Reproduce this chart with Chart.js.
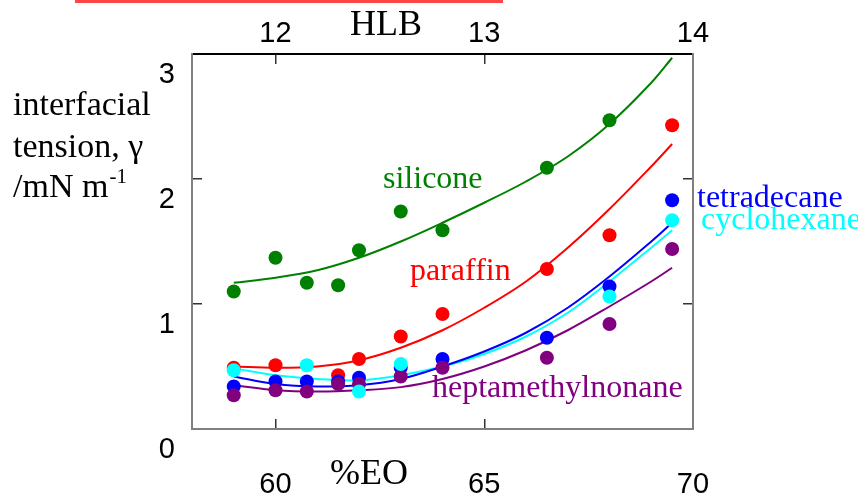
<!DOCTYPE html>
<html>
<head>
<meta charset="utf-8">
<script src="https://cdn.jsdelivr.net/npm/chart.js@4/dist/chart.umd.min.js"></script>
<style>
  html, body { margin: 0; padding: 0; background: #fff; }
  canvas { display: block; }
</style>
</head>
<body>
<canvas id="tensionChart" width="858" height="498"></canvas>
<script>
"use strict";

// tick labels
var eoTicks = [60, 65, 70];
var hlbTicks = [12, 13, 14];
var gammaTicks = [0, 1, 2, 3];

// measured points (%EO vs interfacial tension)
var eoPoints = [59, 60, 60.75, 61.5, 62, 63, 64, 66.5, 68, 69.5];
var siliconePts = [1.10, 1.37, 1.17, 1.15, 1.43, 1.74, 1.59, 2.09, 2.47, null];
var paraffinPts = [0.49, 0.51, null, 0.43, 0.56, 0.74, 0.92, 1.28, 1.55, 2.43];
var tetradecanePts = [0.34, 0.38, 0.38, 0.38, 0.41, 0.49, 0.56, 0.73, 1.14, 1.83];
var heptamethylnonanePts = [0.27, 0.31, 0.30, 0.36, 0.36, 0.42, 0.49, 0.57, 0.84, 1.44];
var cyclohexanePts = [0.47, null, 0.51, null, 0.30, 0.52, null, null, 1.06, 1.67];

// fitted curves
var fitEo = [59, 60, 61, 62, 63, 64, 65, 66, 67, 68, 69, 69.5];
var siliconeFit = [1.17, 1.21, 1.27, 1.37, 1.50, 1.65, 1.81, 1.98, 2.18, 2.44, 2.77, 2.97];
var paraffinFit = [0.50, 0.49, 0.50, 0.55, 0.65, 0.79, 0.97, 1.18, 1.45, 1.76, 2.10, 2.28];
var tetradecaneFit = [0.42, 0.36, 0.34, 0.35, 0.40, 0.50, 0.62, 0.77, 0.97, 1.22, 1.50, 1.65];
var cyclohexaneFit = [0.485, 0.43, 0.40, 0.39, 0.43, 0.50, 0.60, 0.74, 0.93, 1.18, 1.45, 1.59];
var heptamethylnonaneFit = [0.35, 0.31, 0.30, 0.31, 0.335, 0.40, 0.50, 0.63, 0.79, 0.98, 1.18, 1.29];

function toXY(xs, ys) {
  var out = [];
  xs.forEach(function (x, i) {
    if (ys[i] !== null) out.push({ x: x, y: ys[i] });
  });
  return out;
}

function fitSet(ys, color) {
  return {
    data: toXY(fitEo, ys),
    showLine: true,
    borderColor: color,
    borderWidth: 2,
    pointRadius: 0,
    tension: 0.35,
    order: 10
  };
}

function pointSet(ys, color, order) {
  return {
    data: toXY(eoPoints, ys),
    showLine: false,
    backgroundColor: color,
    borderColor: color,
    borderWidth: 0,
    pointRadius: 7,
    order: order
  };
}

var serif = '"Liberation Serif", "Times New Roman", serif';
var sans = '"Liberation Sans", Arial, sans-serif';

var textPlugin = {
  id: 'freeText',
  afterDraw: function (chart) {
    var ctx = chart.ctx;
    ctx.save();
    // red bar at the top edge
    ctx.fillStyle = '#ff4545';
    ctx.fillRect(75, 0, 428, 3);

    ctx.textAlign = 'left';
    ctx.textBaseline = 'alphabetic';
    ctx.fillStyle = '#000';
    ctx.font = '36px ' + serif;
    ctx.fillText('HLB', 350, 35);
    ctx.fillText('%EO', 330, 484);

    ctx.font = '34px ' + serif;
    ctx.fillText('interfacial', 13, 115);
    ctx.fillText('tension, \u03b3', 13, 157);
    ctx.fillText('/mN m', 13, 197);
    var w = ctx.measureText('/mN m').width;
    ctx.font = '21px ' + serif;
    ctx.fillText('-1', 13 + w + 1, 183);

    ctx.font = '32px ' + serif;
    ctx.fillStyle = 'green';
    ctx.fillText('silicone', 383, 188);
    ctx.fillStyle = 'red';
    ctx.fillText('paraffin', 410, 280);
    ctx.fillStyle = 'purple';
    ctx.fillText('heptamethylnonane', 432, 397);
    ctx.fillStyle = 'blue';
    ctx.fillText('tetradecane', 697, 207);
    ctx.fillStyle = 'cyan';
    ctx.fillText('cyclohexane', 701, 229);
    ctx.restore();
  }
};

function axisGrid() {
  return { drawOnChartArea: false, drawTicks: true, tickLength: -10, color: '#333', lineWidth: 1.5 };
}

var ctx = document.getElementById('tensionChart').getContext('2d');
var tensionChart = new Chart(ctx, {
  type: 'scatter',
  data: {
    datasets: [
      fitSet(siliconeFit, 'green'),
      fitSet(paraffinFit, 'red'),
      fitSet(tetradecaneFit, 'blue'),
      fitSet(cyclohexaneFit, 'cyan'),
      fitSet(heptamethylnonaneFit, 'purple'),
      pointSet(siliconePts, 'green', 5),
      pointSet(paraffinPts, 'red', 4),
      pointSet(tetradecanePts, 'blue', 3),
      pointSet(heptamethylnonanePts, 'purple', 2),
      pointSet(cyclohexanePts, 'cyan', 1)
    ]
  },
  options: {
    responsive: false,
    animation: false,
    events: [],
    layout: { padding: 0, autoPadding: false },
    plugins: { legend: { display: false }, tooltip: { enabled: false } },
    scales: {
      x: {
        type: 'linear', position: 'bottom', min: 58, max: 70,
        afterBuildTicks: function (s) { s.ticks = eoTicks.map(function (v) { return { value: v }; }); },
        afterFit: function (s) { s.height = 69; },
        grid: axisGrid(),
        border: { color: '#808080', width: 2 },
        ticks: { autoSkip: false, maxRotation: 0, padding: 49, color: '#000', font: { family: sans, size: 29 } }
      },
      x2: {
        type: 'linear', axis: 'x', position: 'top', min: 11.6, max: 14,
        afterBuildTicks: function (s) { s.ticks = hlbTicks.map(function (v) { return { value: v }; }); },
        afterFit: function (s) { s.height = 54; },
        grid: axisGrid(),
        border: { color: '#000', width: 2 },
        ticks: { autoSkip: false, maxRotation: 0, padding: 13, color: '#000', font: { family: sans, size: 29 } }
      },
      y: {
        type: 'linear', position: 'left', min: 0, max: 3,
        afterBuildTicks: function (s) { s.ticks = gammaTicks.map(function (v) { return { value: v }; }); },
        afterFit: function (s) { s.width = 192; },
        grid: axisGrid(),
        border: { color: '#808080', width: 2 },
        ticks: { padding: 27, labelOffset: 21, color: '#000', font: { family: sans, size: 29 } }
      },
      y2: {
        type: 'linear', axis: 'y', position: 'right', min: 0, max: 3,
        afterBuildTicks: function (s) { s.ticks = gammaTicks.map(function (v) { return { value: v }; }); },
        afterFit: function (s) { s.width = 165; },
        grid: axisGrid(),
        border: { color: '#808080', width: 2 },
        ticks: { display: false }
      }
    }
  },
  plugins: [textPlugin]
});
</script>
</body>
</html>
